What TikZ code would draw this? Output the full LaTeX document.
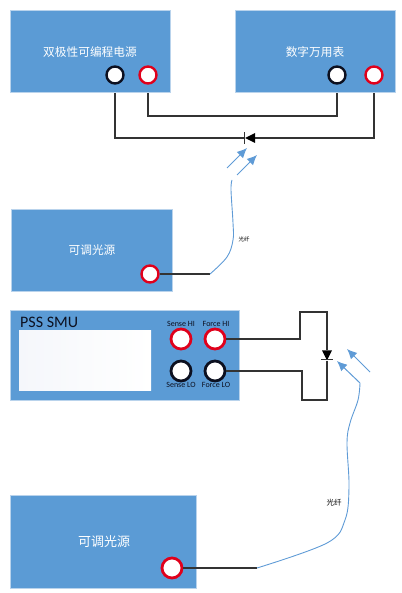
\documentclass[tikz,border=0pt]{standalone}
\usepackage{fontspec}
\setsansfont{Carlito}
\newfontfamily\cjk{Noto Sans CJK SC}
\usepackage{xcolor}
\usepackage{tikz}
\usetikzlibrary{positioning,arrows.meta,shapes.geometric,backgrounds}
\definecolor{panelblue}{HTML}{5B9BD5}
\definecolor{panelrim}{HTML}{B9D3EC}
\definecolor{ringred}{HTML}{E0001B}
\definecolor{ringblack}{HTML}{0C1020}
\definecolor{wiregray}{HTML}{333333}
\definecolor{lightblue}{HTML}{5F9BD6}
\definecolor{screentint}{HTML}{F5F7FB}

\begin{document}
\begin{tikzpicture}[
				x=1pt, y=-1pt,
				panel/.style={
					draw=panelrim,
					line width=0.8pt,
					fill=panelblue,
					anchor=north west,
					inner sep=0pt
				},
				redport/.style={circle, draw=ringred, fill=white, line width=2.4pt, inner sep=0pt, minimum size=17pt},
				blackport/.style={circle, draw=ringblack, fill=white, line width=2.4pt, inner sep=0pt, minimum size=17pt},
				bigport/.style={line width=2.8pt, minimum size=20pt},
				wire/.style={draw=wiregray, line width=1.05pt},
				fibre/.style={draw=lightblue, line width=0.9pt},
				ray/.style={draw=lightblue, line width=1pt, -{Latex[length=10pt,width=9pt]}},
				diode/.style={isosceles triangle, isosceles triangle stretches, fill=black, inner sep=0pt, minimum width=10pt, minimum height=10pt},
				portlabel/.style={font=\sffamily\fontsize{8}{9}\selectfont, text=ringblack, inner sep=0pt},
				fibrelabel/.style={inner sep=0pt, text=black}
				]
				\useasboundingbox (0,0) rectangle (401,593);
				
				\node[panel, minimum width=160pt, minimum height=82pt] (supply) at (10,10) {};
				\node[panel, minimum width=160pt, minimum height=82pt] (meter) at (235,10) {};
				\node[panel, minimum width=161pt, minimum height=82pt] (source1) at (11,209) {};
				\node[panel, minimum width=229pt, minimum height=90pt] (smu) at (10,310) {};
				\node[panel, minimum width=186pt, minimum height=93pt] (source2) at (10,495) {};
				
				\node[text=white, font=\cjk\fontsize{11.7}{14}\selectfont] (supplytext) at (90,52) {双极性可编程电源};
				\node[text=white, font=\cjk\fontsize{11.7}{14}\selectfont] (metertext) at (315,52) {数字万用表};
				\node[text=white, font=\cjk\fontsize{11.7}{14}\selectfont] (source1text) at (92,250) {可调光源};
				\node[text=white, font=\cjk\fontsize{13}{15}\selectfont] (source2text) at (104,542) {可调光源};
				
				\node[blackport] (supplylo) at (115,75) {};
				\node[redport] (supplyhi) at (148,75) {};
				\node[blackport] (meterlo) at (337,75) {};
				\node[redport] (meterhi) at (374,75) {};
				\node[redport] (source1out) at (150,274) {};
				\node[redport, bigport] (source2out) at (172,568) {};
				
				\node[left color=screentint, right color=white, inner sep=0pt, minimum width=132pt, minimum height=60pt, anchor=north west] (screen) at (19,330) {};
				\node[anchor=west, inner sep=0pt, font=\sffamily\fontsize{16}{18}\selectfont, text=ringblack] (smuname) at (20,322) {PSS SMU};
				
				\node[redport, bigport] (sensehi) at (181,339) {};
				\node[redport, bigport] (forcehi) at (215,339) {};
				\node[blackport, bigport] (senselo) at (181,371) {};
				\node[blackport, bigport] (forcelo) at (215,371) {};
				\node[portlabel] (sensehitext) at (181,324) {Sense HI};
				\node[portlabel] (forcehitext) at (216,324) {Force HI};
				\node[portlabel] (senselotext) at (181,385) {Sense LO};
				\node[portlabel] (forcelotext) at (216,385) {Force LO};
				
				\node[diode, shape border rotate=180] (dio1) at (252,138) {};
				\node[diode, shape border rotate=-90] (dio2) at (327,353.5) {};
				\draw[wire] ([yshift=-6]dio1.apex) -- ([yshift=6]dio1.apex);
				\draw[wire] ([xshift=-6,yshift=1]dio2.apex) -- ([xshift=6,yshift=1]dio2.apex);
				
				\coordinate (hitop) at (300,312);
				\coordinate (lobot) at (302,400);
				\coordinate (bend1) at (210,274);
				\coordinate (bend2) at (257,568);
				\coordinate (midwire) at (148,116);
				\coordinate (tail1a) at (227,168);
				\coordinate (tip1a) at (247,148);
				\coordinate (tail1b) at (237,175);
				\coordinate (tip1b) at (257,155);
				\coordinate (tail2a) at (370,372);
				\coordinate (tip2a) at (347,349);
				\coordinate (tail2b) at (360,383);
				\coordinate (tip2b) at (337,361);
				
				\begin{scope}[on background layer]
					\draw[wire] (supplylo) |- (dio1);
					\draw[wire] (dio1) -| (meterhi);
					\draw[wire] (supplyhi) |- (midwire) -| (meterlo);
				\end{scope}
				\draw[wire] (source1out) -- (bend1);
				\draw[wire] (source2out) -- (bend2);
				\draw[wire] (forcehi) -| (hitop) -| (dio2);
				\draw[wire] (forcelo) -| (lobot) -| (dio2);
				
				\draw[fibre] plot[smooth, tension=0.6] coordinates {(bend1) (227,257) (233,240) (233,223) (231,190) (232,180)};
				\draw[fibre] plot[smooth, tension=0.6] coordinates {(bend2) (327,543) (345,520) (349,487) (347,443) (350,423) (358,400) (tail2b)};
				\draw[ray] (tail1a) -- (tip1a);
				\draw[ray] (tail1b) -- (tip1b);
				\draw[ray] (tail2a) -- (tip2a);
				\draw[ray] (tail2b) -- (tip2b);
				
				\node[fibrelabel, font=\cjk\fontsize{5.5}{6}\selectfont] (fibre1text) at (244,239) {光纤};
				\node[fibrelabel, font=\cjk\fontsize{7.5}{8}\selectfont] (fibre2text) at (334,503) {光纤};
			\end{tikzpicture}
\end{document}
